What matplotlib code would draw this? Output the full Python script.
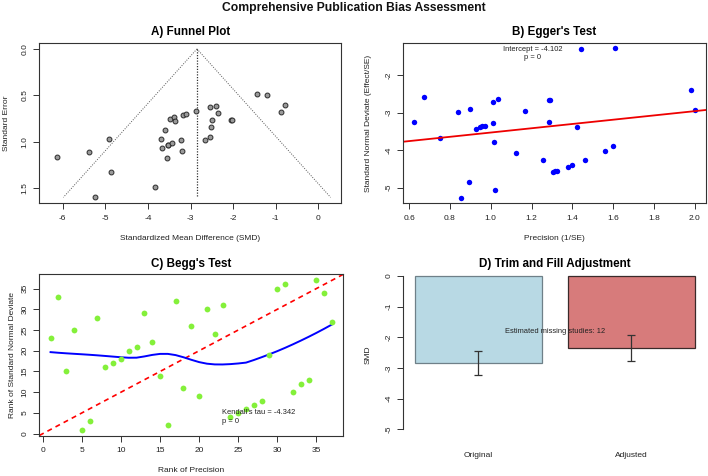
import numpy as np
import matplotlib
matplotlib.use("Agg")
import matplotlib.pyplot as plt

plt.rcParams['font.family'] = ['Liberation Sans', 'DejaVu Sans']
plt.rcParams['axes.unicode_minus'] = False

# ---------------- data ----------------
# A) Funnel plot: standardized mean difference and standard error
funnel_smd = [-6.127, -5.376, -4.92, -4.873, -5.235, -3.833, -3.59, -3.69, -3.676,
              -3.545, -3.535, -3.52, -3.427, -3.216, -3.2, -3.474, -3.394, -3.357,
              -3.169, -3.099, -2.871, -2.535, -2.394, -2.347, -2.495, -2.512,
              -2.653, -2.542, -2.056, -2.03, -1.446, -1.197, -0.883, -0.782]
funnel_se = [1.162, 1.108, 0.969, 1.326, 1.601, 1.487, 0.879, 0.975, 1.069,
             1.179, 1.04, 1.033, 1.017, 0.977, 1.099, 0.75, 0.736, 0.779,
             0.711, 0.704, 0.672, 0.629, 0.611, 0.69, 0.765, 0.844,
             0.98, 0.954, 0.765, 0.765, 0.487, 0.493, 0.679, 0.608]
pooled_smd = -2.85
max_se = 1.6

# B) Egger's test: precision and standard normal deviate
egger_prec = [0.625, 0.672, 0.752, 0.842, 0.855, 0.895, 0.900, 0.927, 0.949, 0.959,
              0.972, 1.010, 1.010, 1.018, 1.021, 1.036, 1.123, 1.168, 1.258, 1.284,
              1.291, 1.284, 1.304, 1.315, 1.327, 1.379, 1.397, 1.423, 1.443, 1.461,
              1.560, 1.601, 1.611, 1.980, 2.001]
egger_snd = [-3.26, -2.578, -3.67, -2.993, -5.267, -4.84, -2.905, -3.43, -3.39, -3.37,
             -3.35, -3.286, -2.711, -3.784, -5.06, -2.64, -4.08, -2.97, -4.263, -2.67,
             -2.66, -3.24, -4.59, -4.56, -4.545, -4.44, -4.40, -3.39, -1.30, -4.265,
             -4.02, -3.90, -1.28, -2.41, -2.94]
egger_intercept = -4.102
egger_slope = 0.57
egger_p = 0

# C) Begg's test: ranks
begg_rank_prec = list(range(1, 38))
begg_rank_snd = [23, 33, 15, 25, 1, 3, 28, 16, 17, 18, 20, 21, 29, 22, 14, 2, 32, 11,
                 26, 9, 30, 24, 31, 4, 5, 6, 7, 8, 19, 35, 36, 10, 12, 13, 37, 34, 27]
kendall_tau = -4.342
begg_p = 0

# D) Trim and fill
tf_labels = ["Original", "Adjusted"]
tf_values = [-2.85, -2.36]
tf_lower = [-3.22, -2.78]
tf_upper = [-2.46, -1.94]
missing_studies = 12


# R-style lowess (clowess)
def lowess(x, y, f=2/3, iters=3):
    x = np.asarray(x, float); y = np.asarray(y, float)
    n = len(x)
    ns = max(2, min(n, int(f * n + 1e-7)))
    delta = 0.01 * (x[-1] - x[0])
    rw = np.ones(n); ys = np.zeros(n); res = np.zeros(n)
    rng = x[-1] - x[0]

    def lowest(xs, nleft, nright, userw):
        w = np.zeros(n)
        h = max(xs - x[nleft], x[nright] - xs)
        h9, h1 = 0.999 * h, 0.001 * h
        a = 0.0
        j = nleft
        while j < n:
            r = abs(x[j] - xs)
            if r <= h9:
                w[j] = 1.0 if r <= h1 else (1 - (r / h) ** 3) ** 3
                if userw:
                    w[j] *= rw[j]
                a += w[j]
            elif x[j] > xs:
                break
            j += 1
        nrt = j - 1
        if a <= 0:
            return None
        idx = slice(nleft, nrt + 1)
        w[idx] /= a
        if h > 0:
            aa = np.sum(w[idx] * x[idx])
            b = xs - aa
            c = np.sum(w[idx] * (x[idx] - aa) ** 2)
            if np.sqrt(c) > 0.001 * rng:
                b /= c
                w[idx] = w[idx] * (b * (x[idx] - aa) + 1.0)
        return np.sum(w[idx] * y[idx])

    for it in range(1, iters + 2):
        nleft, nright, last, i = 0, ns - 1, -1, 0
        while True:
            if nright < n - 1:
                d1 = x[i] - x[nleft]; d2 = x[nright + 1] - x[i]
                if d1 > d2:
                    nleft += 1; nright += 1
                    continue
            v = lowest(x[i], nleft, nright, it > 1)
            ys[i] = y[i] if v is None else v
            if last < i - 1:
                denom = x[i] - x[last]
                for j in range(last + 1, i):
                    alpha = (x[j] - x[last]) / denom
                    ys[j] = alpha * ys[i] + (1 - alpha) * ys[last]
            last = i
            cut = x[last] + delta
            i = last + 1
            while i < n:
                if x[i] > cut:
                    break
                if x[i] == x[last]:
                    ys[i] = ys[last]; last = i
                i += 1
            i = max(last + 1, i - 1)
            if last >= n - 1:
                break
        res = y - ys
        if it > iters:
            break
        sc = np.sum(np.abs(res)) / n
        ar = np.sort(np.abs(res))
        m1 = n // 2
        if n % 2 == 0:
            cmad = 3 * (ar[m1 - 1] + ar[m1])
        else:
            cmad = 6 * ar[m1]
        if cmad < 1e-7 * sc:
            break
        c9, c1 = 0.999 * cmad, 0.001 * cmad
        r = np.abs(res)
        rw = np.where(r <= c1, 1.0, np.where(r <= c9, (1 - (r / cmad) ** 2) ** 2, 0.0))
    return x, ys


# ---------------- layout ----------------
W, H = 708, 476
fig = plt.figure(figsize=(W / 100, H / 100), dpi=100)


def rect(l, t, r, b):
    return [l / W, 1 - b / H, (r - l) / W, (b - t) / H]


AX_FS = 6.0
TITLE_FS = 8.4
NOTE_FS = 5.4
BOX = '#333333'


def style(ax, box=True):
    for s in ax.spines.values():
        s.set_color(BOX); s.set_linewidth(0.8)
        s.set_visible(box)
    ax.tick_params(axis='both', length=4, width=0.7, color=BOX, labelsize=AX_FS,
                   labelcolor='#222222', direction='out')
    ax.tick_params(axis='x', pad=4.5)
    ax.tick_params(axis='y', pad=4, labelrotation=90)
    for lab in ax.get_yticklabels():
        lab.set_va('center')


def labels(ax, xl, yl, ax_rect, xl_y, yl_x):
    l, t, r, b = ax_rect
    ax.set_xlabel(xl, fontsize=AX_FS, color='#222222')
    ax.set_ylabel(yl, fontsize=AX_FS, color='#222222')
    ax.xaxis.label.set_va('center')
    ax.yaxis.label.set_va('center')
    ax.xaxis.set_label_coords(0.5, (b - xl_y) / (b - t))
    ax.yaxis.set_label_coords((yl_x - l) / (r - l), 0.5)


# A) Funnel plot
rA = (39.3, 43, 341, 203.3)
axA = fig.add_axes(rect(*rA))
se_line = np.array([0, max_se])
axA.plot(pooled_smd - 1.96 * se_line, se_line, ls=(0, (1, 1.5)), color='#555555', lw=0.7)
axA.plot(pooled_smd + 1.96 * se_line, se_line, ls=(0, (1, 1.5)), color='#555555', lw=0.7)
axA.plot([pooled_smd, pooled_smd], se_line, ls=(0, (1, 1.2)), color='#333333', lw=0.9)
axA.plot(funnel_smd, funnel_se, 'o', ms=3.5, mfc='#9a9a9a', mec='#2a2a2a', mew=0.7)
axA.set_xlim(-6.55, 0.53)
axA.set_ylim(1.664, -0.064)
axA.set_xticks([-6, -5, -4, -3, -2, -1, 0])
axA.set_yticks([0.0, 0.5, 1.0, 1.5])
axA.set_yticklabels(['0.0', '0.5', '1.0', '1.5'])
style(axA)
labels(axA, 'Standardized Mean Difference (SMD)', 'Standard Error', rA, 239, 7)
axA.set_title('A) Funnel Plot', fontsize=TITLE_FS, fontweight='bold', pad=5.5)

# B) Egger's test
rB = (403.3, 42.7, 705.7, 203.3)
axB = fig.add_axes(rect(*rB))
axB.plot(egger_prec, egger_snd, 'o', ms=3.9, color='#0000ff', mec='none')
xlB = (0.572, 2.053)
xx = np.array(xlB)
axB.plot(xx, egger_intercept + egger_slope * xx, color='#ee0000', lw=1.3)
axB.set_xlim(*xlB)
axB.set_ylim(-5.416, -1.14)
axB.set_xticks([0.6, 0.8, 1.0, 1.2, 1.4, 1.6, 1.8, 2.0])
axB.set_yticks([-2, -3, -4, -5])
style(axB)
labels(axB, 'Precision (1/SE)', 'Standard Normal Deviate (Effect/SE)', rB, 239, 368)
axB.text(1.204, -1.42, f'Intercept = {egger_intercept}\np = {egger_p}',
         fontsize=NOTE_FS, ha='center', va='center', color='#222222', linespacing=1.25)
axB.set_title("B) Egger's Test", fontsize=TITLE_FS, fontweight='bold', pad=5.5)

# C) Begg's test
rC = (39.3, 274.3, 343.3, 435.5)
axC = fig.add_axes(rect(*rC))
lims = (-0.44, 38.44)
axC.plot(lims, lims, color='#ff0000', lw=1.2, ls=(0, (3, 2.5)))
lx, ly = lowess(begg_rank_prec, begg_rank_snd)
axC.plot(lx, ly, color='#0000ff', lw=1.4)
axC.plot(begg_rank_prec, begg_rank_snd, 'o', ms=4.2, color='#84f03a', mec='none')
axC.set_xlim(*lims)
axC.set_ylim(*lims)
axC.set_xticks([0, 5, 10, 15, 20, 25, 30, 35])
axC.set_yticks([0, 5, 10, 15, 20, 25, 30, 35])
style(axC)
labels(axC, 'Rank of Precision', 'Rank of Standard Normal Deviate', rC, 470, 13)
axC.text(22.9, 4.0, f"Kendall's tau = {kendall_tau}\np = {begg_p}",
         fontsize=NOTE_FS, ha='left', va='center', color='#222222', linespacing=1.25)
axC.set_title("C) Begg's Test", fontsize=TITLE_FS, fontweight='bold', pad=5.5)

# D) Trim and fill
rD = (403.3, 274.3, 706.4, 435.5)
axD = fig.add_axes(rect(*rD))
pos = [0.7, 1.9]
axD.bar(pos[0], tf_values[0], width=1.0, color='#b8d9e4', edgecolor='#6f8088', lw=0.9)
axD.bar(pos[1], tf_values[1], width=1.0, color='#d77b7b', edgecolor='#3a2a2a', lw=0.9)
yerr = [[v - lo for v, lo in zip(tf_values, tf_lower)],
        [hi - v for v, hi in zip(tf_values, tf_upper)]]
axD.errorbar(pos, tf_values, yerr=yerr, fmt='none', ecolor='#333333', elinewidth=0.9,
             capsize=3.2, capthick=0.9)
axD.set_xlim(0.112, 2.488)
axD.set_ylim(-5.2, 0.055)
axD.set_yticks([0, -1, -2, -3, -4, -5])
axD.set_xticks(pos)
axD.set_xticklabels(tf_labels)
style(axD, box=False)
axD.spines['left'].set_visible(True)
axD.spines['left'].set_bounds(-5, 0)
axD.tick_params(axis='x', length=0, pad=12)
axD.set_ylabel('SMD', fontsize=AX_FS, color='#222222')
axD.yaxis.label.set_va('center')
axD.yaxis.set_label_coords((368 - rD[0]) / (rD[2] - rD[0]), 0.5)
axD.text(1.3, -1.8, f'Estimated missing studies: {missing_studies}', fontsize=NOTE_FS,
         ha='center', va='center', color='#222222')
axD.set_title('D) Trim and Fill Adjustment', fontsize=TITLE_FS, fontweight='bold', pad=5.5)

fig.text(0.5, 1 - 8 / H, 'Comprehensive Publication Bias Assessment', fontsize=8.7,
         fontweight='bold', ha='center', va='center', color='#111111')

fig.savefig('out.png', dpi=100)
